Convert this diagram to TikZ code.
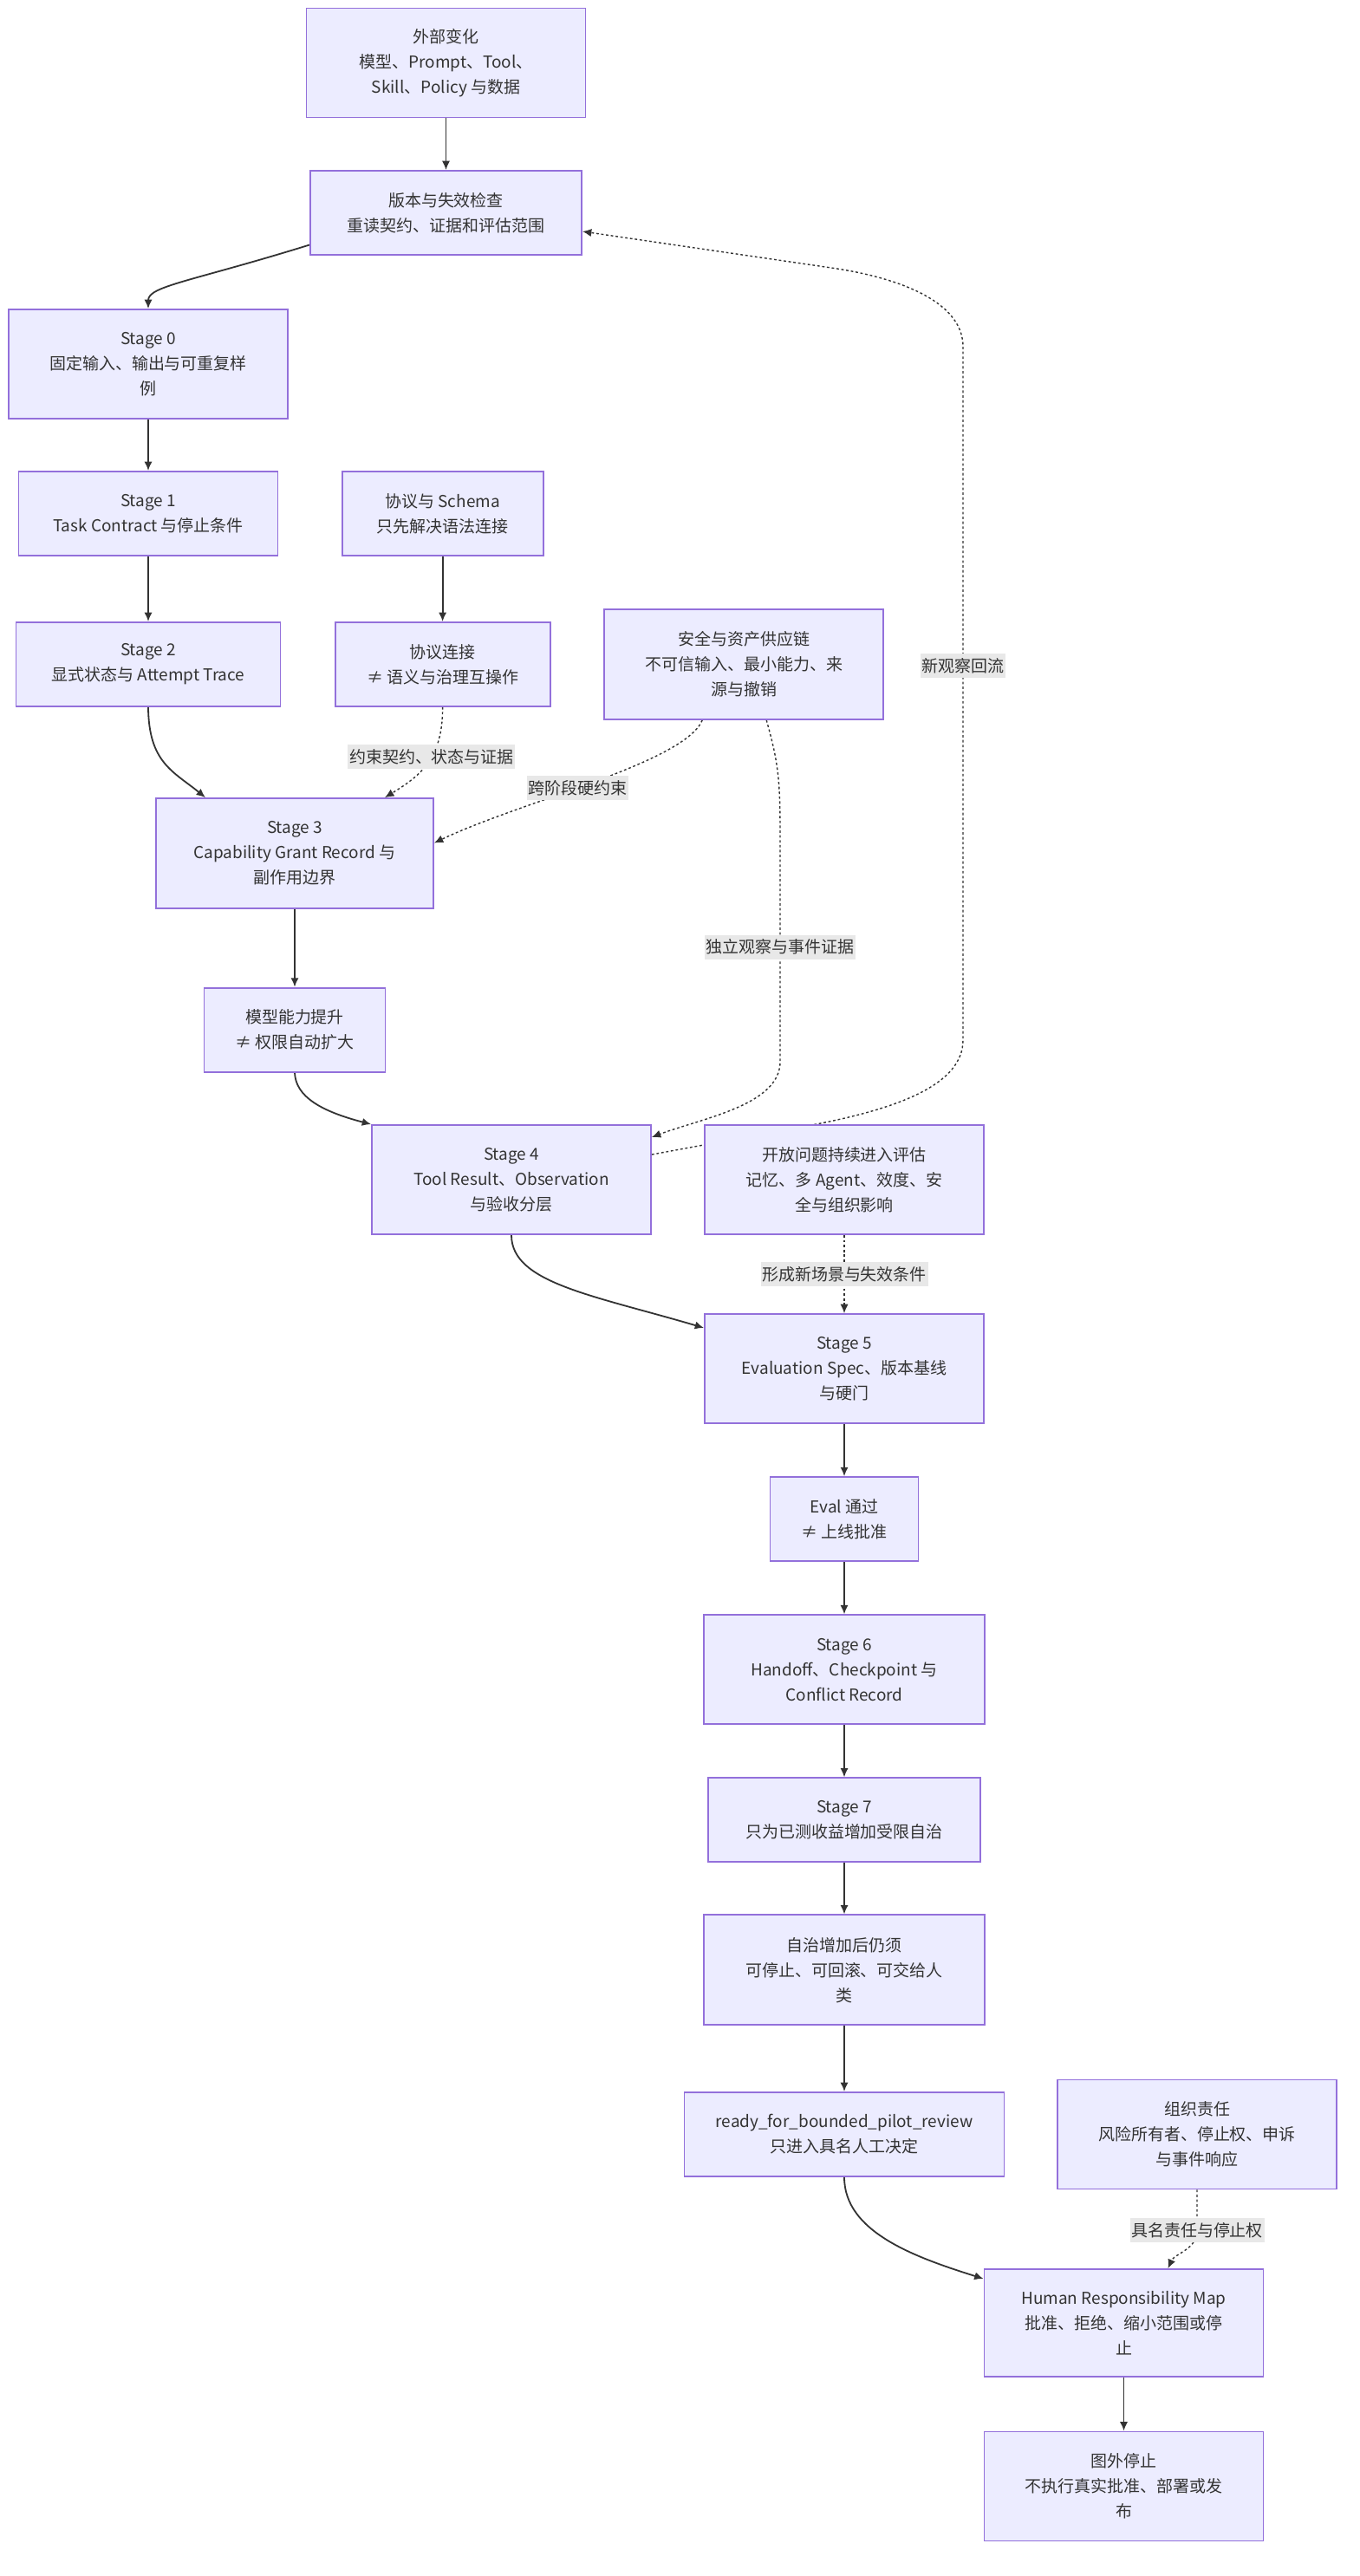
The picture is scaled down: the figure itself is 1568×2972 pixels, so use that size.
\documentclass[tikz,border=0pt]{standalone}
\usepackage{fontspec}
\newfontfamily\evfont{Noto Sans CJK SC}
\usepackage{tikz}
\usetikzlibrary{calc,positioning,arrows.meta,backgrounds}
\definecolor{evfill}{HTML}{ECECFF}
\definecolor{evborder}{HTML}{9370DB}
\definecolor{evline}{HTML}{333333}
\definecolor{evtext}{HTML}{333333}
\definecolor{evlabel}{HTML}{E8E8E8}
\tikzset{
	ev_base/.style={font=\evfont\fontsize{13.5pt}{20.6pt}\selectfont, text=evtext},
	ev_block/.style={ev_base, draw=evborder, fill=evfill, line width=0.45mm, rectangle, on grid, align=center, inner sep=0pt},
	ev_tall/.style={ev_block, minimum width=80.5mm, minimum height=31.5mm},
	ev_short/.style={ev_block, minimum width=#1, minimum height=24.25mm},
	ev_label/.style={ev_base, fill=evlabel, inner xsep=0.4mm, inner ysep=0pt, minimum height=7mm},
	ev_line/.style={draw=evline, line width=0.45mm, -{Latex[length=2.6mm, width=2.3mm]}},
	ev_dot/.style={ev_line, line width=0.35mm, dash pattern=on 0.7mm off 0.7mm}
}
\begin{document}
\begin{tikzpicture}[x=0.25mm, y=-0.25mm]
		\useasboundingbox (0,0) rectangle (1568,2972);

		\node [ev_tall] (ext) at (514.5,72.5) {外部变化\\模型、Prompt、Tool、\\Skill、Policy 与数据};
		\node [ev_short=78.25mm, below = 43.25mm of ext] (vercheck) {版本与失效检查\\重读契约、证据和评估范围};
		\node [ev_tall] (stage0) at (171,420) {Stage 0\\固定输入、输出与可重复样\\例};
		\node [ev_short=74.75mm, below = 43.1mm of stage0] (stage1) {Stage 1\\Task Contract 与停止条件};
		\node [ev_short=58mm, right = 84.9mm of stage1] (proto) {协议与 Schema\\只先解决语法连接};
		\node [ev_short=76.25mm, below = 43.5mm of stage1] (stage2) {Stage 2\\显式状态与 Attempt Trace};
		\node [ev_short=62mm, below = 43.5mm of proto] (protolink) {协议连接\\≠ 语义与治理互操作};
		\node [ev_tall, minimum height=31.75mm, right = 86.9mm of protolink] (secchain) {安全与资产供应链\\不可信输入、最小能力、来\\源与撤销};
		\node [ev_tall, minimum width=80mm, minimum height=31.75mm] (stage3) at (340,984.5) {Stage 3\\Capability Grant Record 与\\副作用边界};
		\node [ev_short=52.25mm, below = 50.9mm of stage3] (capup) {模型能力提升\\≠ 权限自动扩大};
		\node [ev_tall] (stage4) at (590,1361) {Stage 4\\Tool Result、Observation\\与验收分层};
		\node [ev_tall, right = 96mm of stage4] (openq) {开放问题持续进入评估\\记忆、多 Agent、效度、安\\全与组织影响};
		\node [ev_tall, below = 54.5mm of openq] (stage5) {Stage 5\\Evaluation Spec、版本基线\\与硬门};
		\node [ev_short=42.75mm, below = 43.4mm of stage5] (evalpass) {Eval 通过\\≠ 上线批准};
		\node [ev_tall, minimum width=81mm, below = 43.4mm of evalpass] (stage6) {Stage 6\\Handoff、Checkpoint 与\\Conflict Record};
		\node [ev_short=78.5mm, below = 43.4mm of stage6] (stage7) {Stage 7\\只为已测收益增加受限自治};
		\node [ev_tall, minimum width=81mm, minimum height=31.75mm, below = 43.25mm of stage7] (autonomy) {自治增加后仍须\\可停止、可回滚、可交给人\\类};
		\node [ev_short=92.25mm, below = 47.4mm of autonomy] (ready) {ready\_for\_bounded\_pilot\_review\\只进入具名人工决定};
		\node [ev_tall, right = 101.75mm of ready] (orgresp) {组织责任\\风险所有者、停止权、申诉\\与事件响应};
		\node [ev_tall, minimum height=31mm] (hrmap) at (1296.5,2680) {Human Responsibility Map\\批准、拒绝、缩小范围或停\\止};
		\node [ev_tall, below = 47.1mm of hrmap] (outstop) {图外停止\\不执行真实批准、部署或发\\布};

		\begin{pgfonlayer}{background}
		\draw [ev_line] (ext) -- (vercheck);
		\draw [ev_line] ($(vercheck.west)+(0,37)$) .. controls (220,325) and (171,330) .. (stage0.north);
		\draw [ev_line] (stage0) -- (stage1);
		\draw [ev_line] (stage1) -- (stage2);
		\draw [ev_line] (proto) -- (protolink);
		\draw [ev_line] (stage2.south) .. controls (171.5,880) and (200,890) .. ($(stage3.north)+(-103,0)$);
		\draw [ev_dot] (protolink.south) .. controls (511,875) and (485,895) .. ($(stage3.north)+(104,0)$) node [ev_label, pos=0.42] {约束契约、状态与证据};
		\draw [ev_dot] ($(secchain.south)+(-48,0)$) .. controls (790,880) and (600,925) .. ($(stage3.east)+(0,-12)$) node [ev_label, pos=0.55] {跨阶段硬约束};
		\draw [ev_dot] ($(secchain.south)+(26,0)$) .. controls (898,880) and (900,900) .. (900,960) -- (900,1225) node [ev_label, midway] {独立观察与事件证据} .. controls (900,1275) and (810,1290) .. ($(stage4.east)+(0,-49)$);
		\draw [ev_line] (stage3) -- (capup);
		\draw [ev_line] (capup.south) .. controls (341,1265) and (370,1282) .. (stage4.north west);
		\draw [ev_dot] ($(stage4.east)+(0,-29)$) -- (931,1299) .. controls (1040,1279) and (1111,1250) .. (1111,1200) -- (1111,400) node [ev_label, pos=0.54] {新观察回流} .. controls (1111,345) and (1029,319) .. (959,309) -- ($(vercheck.east)+(0,21.5)$);
		\draw [ev_dot] (openq) -- (stage5) node [ev_label, midway] {形成新场景与失效条件};
		\draw [ev_line] (stage4.south) .. controls (590,1480) and (683,1494) .. ($(stage5.west)+(0,-47)$);
		\draw [ev_line] (stage5) -- (evalpass);
		\draw [ev_line] (evalpass) -- (stage6);
		\draw [ev_line] (stage6) -- (stage7);
		\draw [ev_line] (stage7) -- (autonomy);
		\draw [ev_line] (autonomy) -- (ready);
		\draw [ev_line] (ready.south) .. controls (974,2575) and (1055,2604) .. ($(hrmap.west)+(0,-51)$);
		\draw [ev_dot] (orgresp.south) -- ++(0,47) node [ev_label] {具名责任与停止权} .. controls (1381.5,2595) and (1355,2600) .. ($(hrmap.north)+(51,0)$);
		\draw [ev_line] (hrmap) -- (outstop);
		\end{pgfonlayer}
	\end{tikzpicture}
\end{document}
